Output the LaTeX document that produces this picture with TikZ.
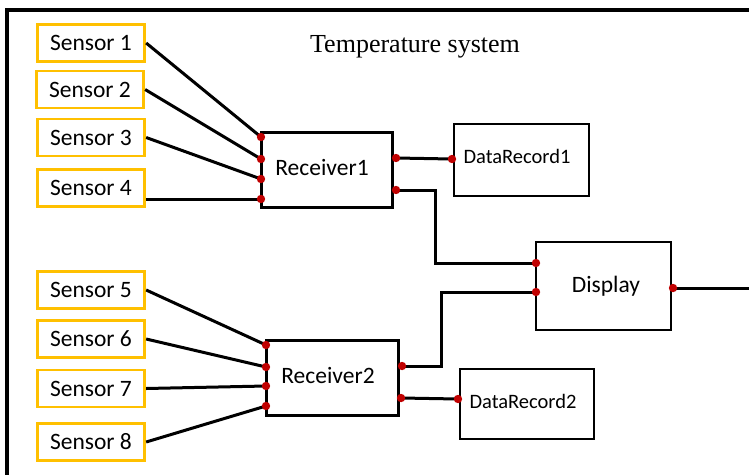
\documentclass[tikz,border=0pt]{standalone}
\usepackage{fontspec}
\setmainfont{Carlito}
\newfontfamily\titlefont{Liberation Serif}
\usetikzlibrary{calc}
\definecolor{sensororange}{HTML}{FFC000}
\definecolor{portred}{HTML}{C00000}
\tikzset{
  sensorbox/.style={draw=sensororange, line width=2.8pt, minimum width=107.5pt,
    minimum height=37pt, inner sep=0pt, font=\fontsize{23.5}{28}\selectfont},
  unitbox/.style={draw, line width=3.4pt, inner sep=0pt,
    minimum width=131pt, minimum height=75pt, font=\fontsize{23.5}{28}\selectfont},
  plainbox/.style={draw, line width=2.6pt, inner sep=0pt},
  wire/.style={line width=3pt},
  frameline/.style={line width=4.5pt},
}
\newcommand{\lifted}[2]{\raisebox{#1}[\height][\depth]{#2}}
\begin{document}
\begin{tikzpicture}[x=1pt, y=-1pt]
\useasboundingbox (0,0) rectangle (749,474);
\clip (0,0) rectangle (749,474);

% outer frame (runs past the right and bottom edges)
\draw[frameline] (7,520) -- (7,10) -- (800,10);

% title
\node[font=\titlefont\fontsize{26}{30}\selectfont, anchor=base, inner sep=0pt]
  (title) at (415,52) {Temperature system};

% sensors
\node[sensorbox] (s1) at (91,43)    {Sensor 1};
\node[sensorbox] (s2) at (90,89.5)  {Sensor 2};
\node[sensorbox] (s3) at (91,137.5) {Sensor 3};
\node[sensorbox] (s4) at (91,188)   {Sensor 4};
\node[sensorbox] (s5) at (91,290)   {Sensor 5};
\node[sensorbox] (s6) at (91,339)   {Sensor 6};
\node[sensorbox] (s7) at (91,388.5) {Sensor 7};
\node[sensorbox] (s8) at (91,442)   {Sensor 8};

% receivers, recorders and display
\node[unitbox] (rec1) at (327,170)   {\lifted{3pt}{Receiver1}\hspace*{10pt}};
\node[unitbox, minimum width=132pt] (rec2) at (332.5,378) {\lifted{3pt}{Receiver2}\hspace*{9pt}};
\node[plainbox, minimum width=135pt, minimum height=72pt, font=\fontsize{20.5}{24}\selectfont]
  (dr1) at (521.5,160) {\lifted{4pt}{DataRecord1}\hspace*{9pt}};
\node[plainbox, minimum width=134pt, minimum height=70pt, font=\fontsize{20.5}{24}\selectfont]
  (dr2) at (527,404) {\lifted{3pt}{DataRecord2}\hspace*{8pt}};
\node[plainbox, minimum width=135pt, minimum height=88pt, font=\fontsize{23.5}{28}\selectfont]
  (disp) at (603.5,286) {\hspace*{5pt}Display};

% ports
\coordinate (r1a) at (261,137);
\coordinate (r1b) at (261,159);
\coordinate (r1c) at (261,179);
\coordinate (r1d) at (261,199);
\coordinate (r1e) at (396,158);
\coordinate (r1f) at (396,190);
\coordinate (r2a) at (266,345);
\coordinate (r2b) at (266,367);
\coordinate (r2c) at (266,386);
\coordinate (r2d) at (266,406);
\coordinate (r2e) at (402,366);
\coordinate (r2f) at (401,398);
\coordinate (dr1in) at (452,159);
\coordinate (dr2in) at (458,399);
\coordinate (d1) at (536,263);
\coordinate (d2) at (536,292);
\coordinate (dout) at (673,288);
\coordinate (outend) at (760,288);

% wiring
\draw[wire] (s1.east) -- (r1a);
\draw[wire] (s2.east) -- (r1b);
\draw[wire] (s3.east) -- (r1c);
\draw[wire] (s4.east |- r1d) -- (r1d);
\draw[wire] (s5.east) -- (r2a);
\draw[wire] (s6.east) -- (r2b);
\draw[wire] (s7.east) -- (r2c);
\draw[wire] (s8.east) -- (r2d);
\draw[wire] (r1e) -- (dr1in);
\draw[wire] (r1f) -- ++(39,0) |- (d1);
\draw[wire] (r2e) -- ++(39,0) |- (d2);
\draw[wire] (r2f) -- (dr2in);
\draw[wire] (dout) -- (outend);

% port dots
\foreach \p in {r1a,r1b,r1c,r1d,r1e,r1f,r2a,r2b,r2c,r2d,r2e,r2f,dr1in,dr2in,d1,d2,dout}
  \fill[portred] (\p) circle (4.2pt);
\end{tikzpicture}
\end{document}
